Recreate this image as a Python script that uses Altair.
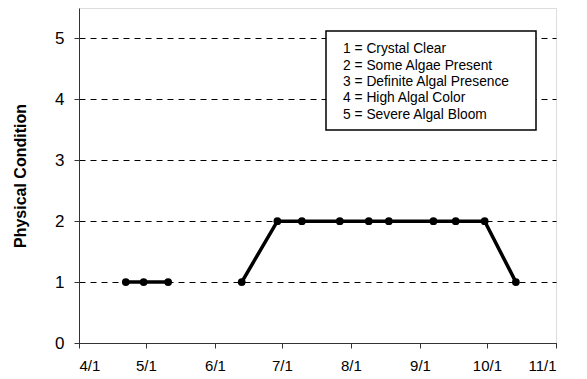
import altair as alt
import pandas as pd

# Sampling dates (month/day) and physical condition ratings, per segment
segment1_dates = ["2003-04-22", "2003-04-30", "2003-05-11"]
segment1_values = [1, 1, 1]
segment2_dates = ["2003-06-13", "2003-06-29", "2003-07-10", "2003-07-27", "2003-08-09",
                  "2003-08-18", "2003-09-07", "2003-09-17", "2003-09-30", "2003-10-14"]
segment2_values = [1, 2, 2, 2, 2, 2, 2, 2, 2, 1]

x_tick_dates = ["2003-04-01", "2003-05-01", "2003-06-01", "2003-07-01",
                "2003-08-01", "2003-09-01", "2003-10-01", "2003-11-01"]
y_ticks = [0, 1, 2, 3, 4, 5]
legend_lines = ["1 = Crystal Clear", "2 = Some Algae Present", "3 = Definite Algal Presence",
                "4 = High Algal Color", "5 = Severe Algal Bloom"]

df = pd.DataFrame({
    "date": segment1_dates + segment2_dates,
    "value": segment1_values + segment2_values,
    "segment": ["a"] * len(segment1_dates) + ["b"] * len(segment2_dates),
})
one_row = pd.DataFrame({"k": [0]})

tick_ms = [int(pd.Timestamp(d, tz="UTC").value // 10**6) for d in x_tick_dates]

FONT = "Liberation Sans"

x_enc = alt.X(
    "date:T",
    scale=alt.Scale(type="utc", domain=[tick_ms[0], tick_ms[-1]], nice=False),
    axis=alt.Axis(
        values=tick_ms,
        labelExpr="utcFormat(datum.value, '%-m/%-d')",
        title=None, grid=False,
        labelFontSize=15, labelPadding=10, tickSize=5, tickColor="#333333",
        domainColor="#333333", labelColor="black", labelFont=FONT,
    ),
)
y_enc = alt.Y(
    "value:Q",
    scale=alt.Scale(domain=[0, 5.5], nice=False, zero=True),
    axis=alt.Axis(
        values=y_ticks, title="Physical Condition", titleFontSize=16, titleFont=FONT,
        titleFontWeight="bold", titleColor="black", titleX=-59, titleBaseline="middle",
        labelFontSize=17, labelPadding=10, labelColor="black", labelFont=FONT,
        tickSize=5, tickColor="#333333", domainColor="#333333",
        grid=True, gridColor="black", gridDash=[6, 5], gridWidth=1,
        gridOpacity=1,
    ),
)

line = alt.Chart(df).mark_line(color="black", strokeWidth=3.5).encode(
    x=x_enc, y=y_enc, detail="segment:N"
)
points = alt.Chart(df).mark_circle(color="black", size=60, opacity=1).encode(
    x=x_enc, y=y_enc
)

box = alt.Chart(one_row).mark_rect(fill="white", stroke="black", strokeWidth=1.5).encode(
    x=alt.value(247), x2=alt.value(457), y=alt.value(23), y2=alt.value(122)
)
legend_text = alt.Chart(one_row).mark_text(
    text=legend_lines, align="left", baseline="middle", lineHeight=16.4,
    fontSize=13.8, font=FONT, color="black",
).encode(x=alt.value(264), y=alt.value(41.3))

chart = alt.layer(line, points, box, legend_text).properties(
    width=477, height=335,
    autosize=alt.AutoSizeParams(type="none"),
    padding={"left": 71, "top": 0, "right": 20, "bottom": 30},
).configure_view(stroke="#999999", strokeWidth=1.5).configure(font=FONT)

chart.save("out.html", embed_options={"renderer": "svg", "actions": False})
